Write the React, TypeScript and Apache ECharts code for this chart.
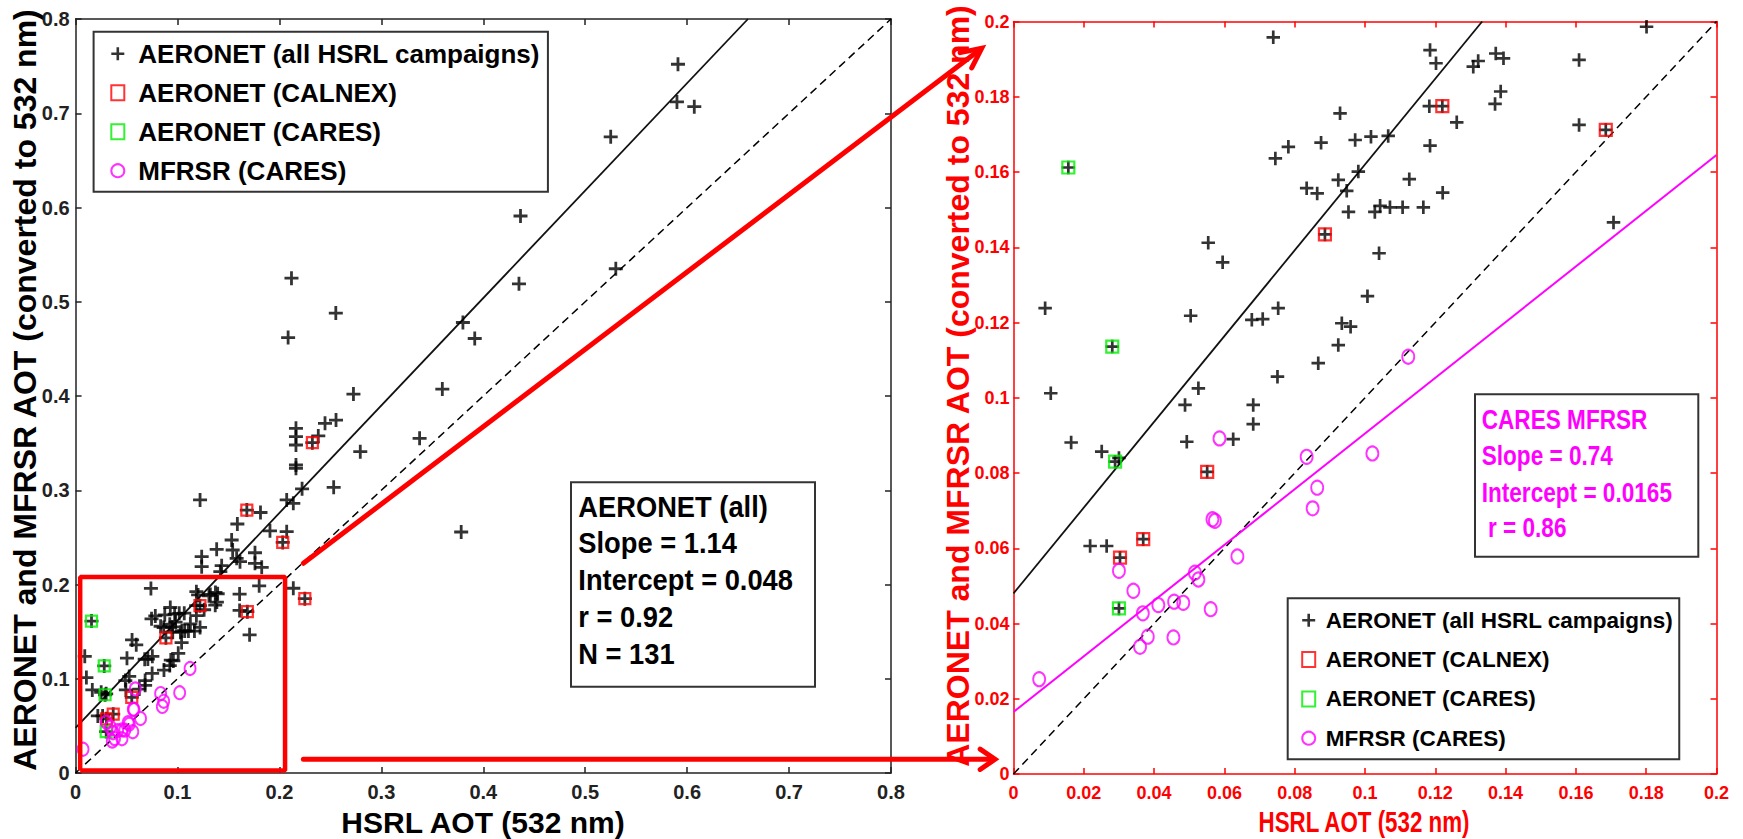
import React, { useEffect, useRef } from 'react';
import * as echarts from 'echarts';

// ---------- data ----------
const seriesNames = [
  'AERONET (all HSRL campaigns)',
  'AERONET (CALNEX)',
  'AERONET (CARES)',
  'MFRSR (CARES)',
];

const aeronetAll: [number, number][] = [
  [0.0156, 0.1612], [0.0281, 0.1136], [0.0090, 0.1238], [0.0106, 0.1012], [0.0739, 0.1958],
  [0.0929, 0.1756], [0.0745, 0.1636], [0.0782, 0.1667], [0.0875, 0.1678], [0.0972, 0.1685],
  [0.0981, 0.1601], [0.0834, 0.1557], [0.0864, 0.1543], [0.0924, 0.1579], [0.0948, 0.1550],
  [0.0953, 0.1494], [0.0886, 0.1434], [0.0554, 0.1412], [0.0595, 0.1360], [0.0504, 0.1218],
  [0.0678, 0.1207], [0.0709, 0.1209], [0.0753, 0.1238], [0.0934, 0.1198], [0.0959, 0.1189],
  [0.0924, 0.1140], [0.0867, 0.1092], [0.0751, 0.1056], [0.0526, 0.1025], [0.0488, 0.0981],
  [0.0682, 0.0981], [0.0164, 0.0881], [0.0251, 0.0857], [0.0289, 0.0830], [0.0300, 0.0840],
  [0.0493, 0.0883], [0.0625, 0.0890], [0.0682, 0.0930], [0.0551, 0.0803], [0.0218, 0.0606],
  [0.0265, 0.0606], [0.0303, 0.0575], [0.0369, 0.0624], [0.0300, 0.0440], [0.1801, 0.1986],
  [0.1185, 0.1924], [0.1202, 0.1889], [0.1308, 0.1880], [0.1322, 0.1895], [0.1372, 0.1915],
  [0.1394, 0.1902], [0.1609, 0.1898], [0.1183, 0.1775], [0.1220, 0.1775], [0.1261, 0.1732],
  [0.1386, 0.1814], [0.1370, 0.1781], [0.1609, 0.1725], [0.1685, 0.1712], [0.1017, 0.1694],
  [0.1066, 0.1696], [0.1185, 0.1670], [0.1028, 0.1494], [0.1043, 0.1510], [0.1071, 0.1506],
  [0.1107, 0.1506], [0.1166, 0.1506], [0.1126, 0.1581], [0.1221, 0.1545], [0.1040, 0.1384],
  [0.1007, 0.1270], [0.1707, 0.1466],
  [0.591, 0.752], [0.590, 0.712], [0.607, 0.707], [0.525, 0.675], [0.530, 0.535],
  [0.4365, 0.591], [0.435, 0.519], [0.2118, 0.525], [0.2085, 0.462], [0.2553, 0.488],
  [0.380, 0.478], [0.3916, 0.461], [0.2726, 0.402], [0.3598, 0.4074], [0.2447, 0.371],
  [0.2555, 0.3745], [0.2162, 0.3657], [0.2162, 0.3568], [0.2162, 0.348], [0.2323, 0.3505],
  [0.2381, 0.3576], [0.3375, 0.3551], [0.2793, 0.3409], [0.2162, 0.3268], [0.2162, 0.3233],
  [0.2222, 0.3015], [0.2532, 0.3031], [0.2071, 0.2897], [0.2136, 0.2861], [0.1221, 0.2897],
  [0.1680, 0.279], [0.1814, 0.2764], [0.1907, 0.2569], [0.2071, 0.2560], [0.2032, 0.2446],
  [0.3783, 0.2557], [0.1587, 0.2642], [0.1384, 0.2373], [0.1531, 0.2472], [0.1541, 0.2366],
  [0.1580, 0.2278], [0.1760, 0.2337], [0.1760, 0.2225], [0.1826, 0.2182], [0.1237, 0.2295],
  [0.1237, 0.2189], [0.1433, 0.2200], [0.1420, 0.2136], [0.1613, 0.2242], [0.2136, 0.1960],
  [0.2249, 0.1850],
];

const aeronetCalnex: [number, number][] = [
  [0.0886, 0.1434], [0.0551, 0.0803], [0.0303, 0.0575], [0.0369, 0.0624], [0.1220, 0.1775],
  [0.1685, 0.1712], [0.2323, 0.3505], [0.1680, 0.279], [0.2032, 0.2446], [0.2249, 0.1850],
];

const aeronetCares: [number, number][] = [
  [0.0156, 0.1612], [0.0281, 0.1136], [0.0289, 0.0830], [0.0300, 0.0440],
];

const mfrsrCares: [number, number][] = [
  [0.0073, 0.0252], [0.0300, 0.0540], [0.0341, 0.0487], [0.0368, 0.0427], [0.0412, 0.0449],
  [0.0457, 0.0458], [0.0483, 0.0455], [0.0360, 0.0338], [0.0382, 0.0365], [0.0455, 0.0363],
  [0.0516, 0.0535], [0.0526, 0.0517], [0.0561, 0.0438], [0.0566, 0.0677], [0.0573, 0.0673],
  [0.0586, 0.0892], [0.0637, 0.0578], [0.0834, 0.0843], [0.0864, 0.0761], [0.0851, 0.0706],
  [0.1021, 0.0852], [0.1123, 0.1109],
];

const fitAll = { slope: 1.14, intercept: 0.048 };
const fitMfrsr = { slope: 0.74, intercept: 0.0165 };

const leftAxis = { min: 0, max: 0.8, interval: 0.1 };
const rightAxis = { min: 0, max: 0.2, interval: 0.02 };

const zoomBox: [number, number][] = [
  [0.0045, 0.0027], [0.2055, 0.0027], [0.2055, 0.208], [0.0045, 0.208], [0.0045, 0.0027],
];

const statsAll = ['AERONET (all)', 'Slope = 1.14', 'Intercept = 0.048', 'r = 0.92', 'N = 131'];
const statsMfrsr = ['CARES MFRSR', 'Slope = 0.74', 'Intercept = 0.0165', ' r = 0.86'];

const xTitle = 'HSRL AOT (532 nm)';
const yTitle = 'AERONET and MFRSR AOT (converted to 532 nm)';

// ---------- styles ----------
const SANS = "'Liberation Sans', Arial, Helvetica, sans-serif";
const RED = '#ff0000';
const MAG = '#ff00ff';
const GREEN = '#00ee00';
const CROSS = 'path://M40,0H60V40H100V60H60V100H40V60H0V40H40Z';

function fitLine(fit: { slope: number; intercept: number }, max: number): [number, number][] {
  const xe = Math.min(max, (max - fit.intercept) / fit.slope);
  return [[0, fit.intercept], [xe, fit.slope * xe + fit.intercept]];
}

const fmt = (v: number) => String(+v.toFixed(2));

function makeAxes(gridIndex: number, ax: { min: number; max: number; interval: number }, color: string,
  labelFont: number, xMargin: number, yMargin: number) {
  const common = {
    type: 'value' as const,
    gridIndex,
    min: ax.min,
    max: ax.max,
    interval: ax.interval,
    splitLine: { show: false },
    axisLine: { show: true, onZero: false, lineStyle: { color, width: 1.5 } },
    axisTick: { show: true, inside: true, length: 6, lineStyle: { color, width: 1.5 } },
  };
  const label = (margin: number) => ({
    show: true, color, fontSize: labelFont, fontWeight: 'bold' as const, fontFamily: SANS, margin,
    formatter: fmt,
  });
  return {
    x: [
      { ...common, position: 'bottom', axisLabel: label(xMargin) },
      { ...common, position: 'top', axisLabel: { show: false } },
    ],
    y: [
      { ...common, position: 'left', axisLabel: label(yMargin) },
      { ...common, position: 'right', axisLabel: { show: false } },
    ],
  };
}

function arrow(x1: number, y1: number, x2: number, y2: number, head: number, ang: number) {
  const dx = x2 - x1, dy = y2 - y1;
  const len = Math.hypot(dx, dy);
  const ux = dx / len, uy = dy / len;
  const rot = (a: number) => [ux * Math.cos(a) - uy * Math.sin(a), ux * Math.sin(a) + uy * Math.cos(a)];
  const a1 = rot(ang), a2 = rot(-ang);
  const style = { stroke: RED, lineWidth: 5, lineCap: 'round', lineJoin: 'miter' };
  return [
    { type: 'line', shape: { x1, y1, x2: x2 - ux * 2, y2: y2 - uy * 2 }, style, z: 20 },
    {
      type: 'polyline',
      shape: { points: [[x2 - head * a1[0], y2 - head * a1[1]], [x2, y2], [x2 - head * a2[0], y2 - head * a2[1]]] },
      style: { ...style, fill: null }, z: 20,
    },
  ];
}

function statsBox(x: number, y: number, w: number, h: number, tx: number, ys: number[], lines: string[],
  color: string, size: number, sx: number) {
  return {
    type: 'group',
    z: 30,
    children: [
      { type: 'rect', shape: { x, y, width: w, height: h }, style: { fill: '#fff', stroke: '#333', lineWidth: 2 } },
      ...lines.map((t, i) => ({
        type: 'text', x: tx, y: ys[i], scaleX: sx,
        style: { text: t, fill: color, fontSize: size, fontWeight: 'bold', fontFamily: SANS, textAlign: 'left', textVerticalAlign: 'middle' },
      })),
    ],
  };
}

export default function App() {
  const ref = useRef<HTMLDivElement>(null);
  useEffect(() => {
    if (!ref.current) return;
    const chart = echarts.init(ref.current, undefined, { renderer: 'svg' });

    const L = makeAxes(0, leftAxis, '#222', 20, 9, 6);
    const R = makeAxes(1, rightAxis, RED, 18, 10, 4);

    const inRight = (p: [number, number]) => p[0] <= rightAxis.max && p[1] <= rightAxis.max;

    const markerSeries = (xi: number, yi: number, right: boolean) => [
      {
        type: 'scatter', name: seriesNames[0], xAxisIndex: xi, yAxisIndex: yi,
        data: right ? aeronetAll.filter(inRight) : aeronetAll,
        symbol: CROSS, symbolSize: right ? 13.5 : 14,
        itemStyle: { color: '#000' }, z: 5, silent: true,
      },
      {
        type: 'scatter', name: seriesNames[1], xAxisIndex: xi, yAxisIndex: yi,
        data: right ? aeronetCalnex.filter(inRight) : aeronetCalnex,
        symbol: 'rect', symbolSize: right ? 12 : 11,
        itemStyle: { color: 'rgba(0,0,0,0)', borderColor: RED, borderWidth: 2.2 }, z: 6, silent: true,
      },
      {
        type: 'scatter', name: seriesNames[2], xAxisIndex: xi, yAxisIndex: yi,
        data: right ? aeronetCares.filter(inRight) : aeronetCares,
        symbol: 'rect', symbolSize: right ? 12 : 11,
        itemStyle: { color: 'rgba(0,0,0,0)', borderColor: GREEN, borderWidth: 2.2 }, z: 6, silent: true,
      },
      {
        type: 'scatter', name: seriesNames[3], xAxisIndex: xi, yAxisIndex: yi,
        data: right ? mfrsrCares.filter(inRight) : mfrsrCares,
        symbol: 'circle', symbolSize: right ? [12, 14] : [11, 13],
        itemStyle: { color: 'rgba(0,0,0,0)', borderColor: MAG, borderWidth: 2 }, z: 6, silent: true,
      },
    ];

    const lineSeries = (xi: number, yi: number, data: [number, number][], color: string, width: number, type: any, z = 3) => ({
      type: 'line', xAxisIndex: xi, yAxisIndex: yi, data, symbol: 'none', silent: true, z,
      lineStyle: { color, width, type }, clip: true,
    });

    const legendData = () => [
      { name: seriesNames[0], icon: CROSS, itemStyle: { color: '#000', borderWidth: 0 } },
      { name: seriesNames[1], icon: 'rect', itemStyle: { color: 'rgba(0,0,0,0)', borderColor: RED, borderWidth: 2 } },
      { name: seriesNames[2], icon: 'rect', itemStyle: { color: 'rgba(0,0,0,0)', borderColor: GREEN, borderWidth: 2 } },
      { name: seriesNames[3], icon: 'circle', itemStyle: { color: 'rgba(0,0,0,0)', borderColor: MAG, borderWidth: 2 } },
    ];

    const option: any = {
      animation: false,
      backgroundColor: '#fff',
      grid: [
        { left: 75.6, top: 19, width: 815.4, height: 754, containLabel: false },
        { left: 1013.5, top: 21.5, width: 703, height: 752.5, containLabel: false },
      ],
      xAxis: [...L.x, ...R.x],
      yAxis: [...L.y, ...R.y],
      legend: [
        {
          orient: 'vertical', left: 93.6, top: 31.7,
          padding: [7, 8, 6, 16.7], itemWidth: 13, itemHeight: 15, itemGap: 9,
          backgroundColor: '#fff', borderColor: '#333', borderWidth: 2, selectedMode: false, z: 30,
          textStyle: { fontSize: 26, fontWeight: 'bold', fontFamily: SANS, color: '#000', lineHeight: 30, padding: [0, 0, 0, 9] },
          data: legendData(),
        },
        {
          orient: 'vertical', left: 1287.7, top: 598.3,
          padding: [8, 6, 7, 13.5], itemWidth: 13, itemHeight: 15, itemGap: 11.3,
          backgroundColor: '#fff', borderColor: '#333', borderWidth: 2, selectedMode: false, z: 30,
          textStyle: { fontSize: 22.5, fontWeight: 'bold', fontFamily: SANS, color: '#000', lineHeight: 28, padding: [0, 0, 0, 5.5] },
          data: legendData(),
        },
      ],
      series: [
        lineSeries(0, 0, [[0, 0], [leftAxis.max, leftAxis.max]], '#000', 1.5, [8, 5]),
        lineSeries(0, 0, fitLine(fitAll, leftAxis.max), '#111', 1.8, 'solid'),
        lineSeries(0, 0, zoomBox, RED, 4.5, 'solid', 8),
        ...markerSeries(0, 0, false),
        lineSeries(2, 2, [[0, 0], [rightAxis.max, rightAxis.max]], '#000', 1.5, [8, 5]),
        lineSeries(2, 2, fitLine(fitAll, rightAxis.max), '#111', 1.8, 'solid'),
        lineSeries(2, 2, fitLine(fitMfrsr, rightAxis.max), MAG, 2, 'solid'),
        ...markerSeries(2, 2, true),
      ],
      graphic: [
        {
          type: 'text', x: 483, y: 822, z: 30,
          style: { text: xTitle, fill: '#000', fontSize: 30, fontWeight: 'bold', fontFamily: SANS, textAlign: 'center', textVerticalAlign: 'middle' },
        },
        {
          type: 'text', x: 25, y: 390, rotation: Math.PI / 2, z: 30,
          style: { text: yTitle, fill: '#000', fontSize: 32, fontWeight: 'bold', fontFamily: SANS, textAlign: 'center', textVerticalAlign: 'middle' },
        },
        {
          type: 'text', x: 1364, y: 822, z: 30, scaleX: 0.745,
          style: { text: xTitle, fill: RED, fontSize: 30, fontWeight: 'bold', fontFamily: SANS, textAlign: 'center', textVerticalAlign: 'middle' },
        },
        {
          type: 'text', x: 958, y: 386, rotation: Math.PI / 2, z: 30,
          style: { text: yTitle, fill: RED, fontSize: 32, fontWeight: 'bold', fontFamily: SANS, textAlign: 'center', textVerticalAlign: 'middle' },
        },
        statsBox(571, 482.3, 244, 204.4, 578.3, [506.7, 542.7, 579.3, 616.7, 653.3], statsAll, '#000', 30, 0.91),
        statsBox(1475, 394.3, 223.3, 162.4, 1481.7, [419, 455, 491.7, 527.3], statsMfrsr, MAG, 28, 0.807),
        ...arrow(303.4, 563.3, 981.7, 48.3, 22, 0.45),
        ...arrow(303.4, 759.3, 995, 759.3, 18, 0.6),
      ],
    };

    chart.setOption(option);
    return () => chart.dispose();
  }, []);

  return (
    <div
      ref={ref}
      style={{ position: 'absolute', left: 0, top: 0, width: '1743px', height: '839px', background: '#fff' }}
    />
  );
}
